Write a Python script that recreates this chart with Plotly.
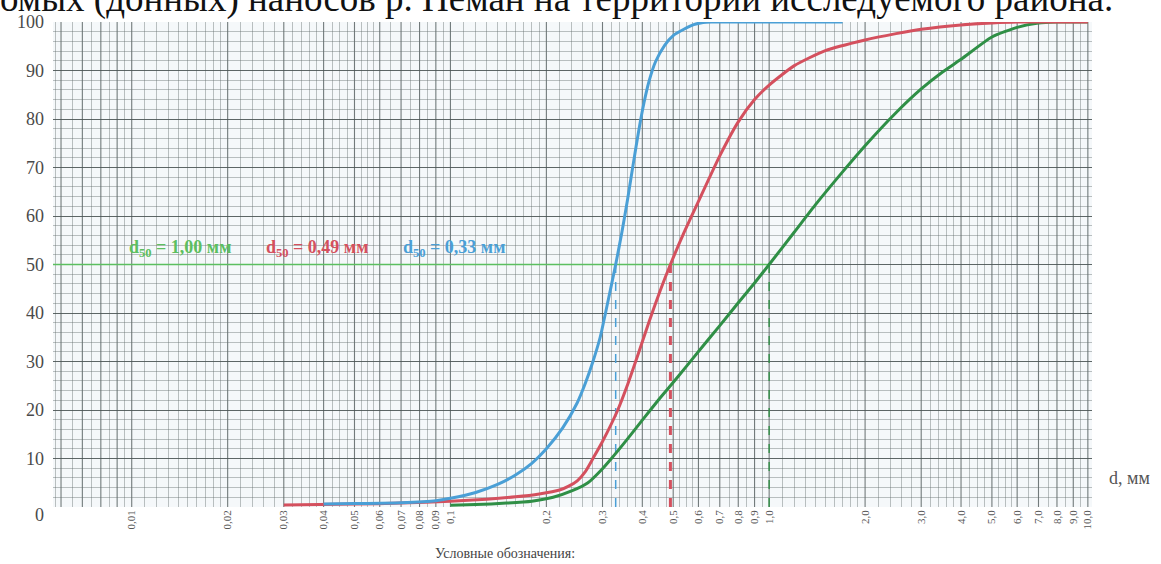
import plotly.graph_objects as go

# ---------------- data ----------------
tick_vals = [0.01, 0.02, 0.03, 0.04, 0.05, 0.06, 0.07, 0.08, 0.09, 0.1,
             0.2, 0.3, 0.4, 0.5, 0.6, 0.7, 0.8, 0.9, 1.0,
             2.0, 3.0, 4.0, 5.0, 6.0, 7.0, 8.0, 9.0, 10.0]
tick_text = ["0,01", "0,02", "0,03", "0,04", "0,05", "0,06", "0,07", "0,08", "0,09", "0,1",
             "0,2", "0,3", "0,4", "0,5", "0,6", "0,7", "0,8", "0,9", "1,0",
             "2,0", "3,0", "4,0", "5,0", "6,0", "7,0", "8,0", "9,0", "10,0"]
y_ticks = [10, 20, 30, 40, 50, 60, 70, 80, 90, 100]

green_x = [0.1, 0.12, 0.15, 0.18, 0.21, 0.24, 0.27, 0.3, 0.32, 0.36, 0.4, 0.45, 0.49, 0.55,
           0.62, 0.7, 0.8, 0.9, 1.0, 1.2, 1.4, 1.7, 2.0, 2.5, 3.0, 3.5, 4.0, 5.0, 6.0, 7.0, 8.0, 10.0]
green_y = [0.35, 0.5, 0.8, 1.2, 2.0, 3.3, 5.0, 7.9, 10, 14.1, 17.9, 22.1, 25, 29,
           33.2, 37.4, 42.1, 46.2, 50, 56.7, 62.4, 69.1, 74.5, 81.3, 86.2, 89.7, 92.3, 96.9, 98.9, 99.8, 100, 100]

red_x = [0.03, 0.05, 0.07, 0.1, 0.13, 0.16, 0.19, 0.22, 0.235, 0.25, 0.265, 0.28, 0.3, 0.335,
         0.36, 0.39, 0.42, 0.455, 0.49, 0.54, 0.6, 0.7, 0.8, 0.9, 1.0, 1.2, 1.5, 2.0, 2.5, 3.0,
         4.0, 5.0, 6.0, 7.0, 10.0]
red_y = [0.4, 0.6, 0.8, 1.2, 1.6, 2.1, 2.7, 3.5, 4.3, 5.4, 7.3, 10, 13.5, 20,
         25.3, 31.9, 38.2, 44.6, 50, 56.5, 63, 72.4, 79.4, 84, 87, 91, 94.1, 96.3, 97.6, 98.5,
         99.4, 99.8, 100, 100, 100]

blue_x = [0.04, 0.05, 0.07, 0.09, 0.1, 0.12, 0.14, 0.16, 0.18, 0.2, 0.225, 0.25, 0.265, 0.28,
          0.295, 0.31, 0.33, 0.345, 0.36, 0.375, 0.39, 0.405, 0.42, 0.44, 0.47, 0.5, 0.54, 0.58,
          0.62, 0.66, 1.0, 1.3, 1.7]
blue_y = [0.6, 0.7, 0.9, 1.3, 1.8, 3.0, 4.6, 6.6, 9.0, 12.0, 16.3, 21.5, 25.5, 30,
          35, 41.5, 50, 56.6, 63.6, 70.9, 77.7, 83.4, 87.8, 91.8, 95.2, 97.2, 98.5, 99.45,
          99.9, 100, 100, 100, 100]

d50_values = [1.00, 0.49, 0.33]
d50_labels = ["d<sub>50</sub> = 1,00 мм", "d<sub>50</sub> = 0,49 мм", "d<sub>50</sub> = 0,33 мм"]
level_50 = 50

# ---------------- style ----------------
GREEN = "#2f8f46"
RED = "#d4505e"
BLUE = "#4a9fd6"
GREEN_LIGHT = "#5cbf60"
SERIF = "Liberation Serif"

x_log_min, x_log_max = -2.247, 1.013

major_grid = [0.006, 0.007, 0.008, 0.009] + tick_vals
mults = [1.1, 1.2, 1.3, 1.4, 1.5, 1.6, 1.7, 1.8, 1.9, 2.2, 2.4, 2.6, 2.8, 3.2, 3.4, 3.6, 3.8,
         4.25, 4.5, 4.75, 5.25, 5.5, 5.75, 6.5, 7.5, 8.5, 9.5]
minor_grid = [b * m for b in [0.001, 0.01, 0.1, 1.0] for m in mults]
minor_grid = [v for v in minor_grid if 10 ** x_log_min < v < 10 ** x_log_max]

fig = go.Figure()

fig.add_trace(go.Scatter(x=[10 ** x_log_min, d50_values[0]], y=[level_50, level_50], mode="lines",
                         line=dict(color=GREEN_LIGHT, width=1.6), hoverinfo="skip", showlegend=False))

for val, col, w in zip(d50_values, [GREEN, RED, BLUE], [1.4, 3.0, 1.5]):
    fig.add_trace(go.Scatter(x=[val, val], y=[0, level_50], mode="lines",
                             line=dict(color=col, width=w, dash="dash"), hoverinfo="skip", showlegend=False))

for xs, ys, col in [(green_x, green_y, GREEN), (red_x, red_y, RED), (blue_x, blue_y, BLUE)]:
    fig.add_trace(go.Scatter(x=xs, y=ys, mode="lines",
                             line=dict(color=col, width=3, shape="spline", smoothing=0.6),
                             showlegend=False))

fig.update_layout(
    width=1161, height=564,
    margin=dict(l=53, r=69, t=22, b=57),
    paper_bgcolor="white", plot_bgcolor="#f5f8fa",
    showlegend=False,
    xaxis=dict(type="log", range=[x_log_min, x_log_max],
               tickmode="array", tickvals=tick_vals, ticktext=tick_text,
               tickangle=-90, tickfont=dict(family=SERIF, size=11, color="#555"),
               showgrid=False, zeroline=False, showline=False, ticks="", automargin=False,
               minor=dict(tickmode="array", tickvals=minor_grid, showgrid=True,
                          gridcolor="rgba(100,110,110,0.42)", gridwidth=1, ticks="")),
    yaxis=dict(range=[0, 100], tickmode="array", tickvals=y_ticks,
               tickfont=dict(family=SERIF, size=18, color="#4a4a4a"),
               showgrid=True, gridcolor="rgba(70,80,80,0.8)", gridwidth=1.2,
               zeroline=False, showline=False, ticks="", ticklabelstandoff=8, automargin=False,
               minor=dict(dtick=2, showgrid=True, gridcolor="rgba(100,110,110,0.42)", gridwidth=1)),
)

for v in major_grid:
    if 10 ** x_log_min < v < 10 ** x_log_max:
        fig.add_shape(type="line", xref="x", yref="paper", x0=v, x1=v, y0=0, y1=1,
                      line=dict(color="rgba(70,80,80,0.75)", width=1.1), layer="below")

ann_x = [0.122, 0.254, 0.386]
for lbl, col, ax in zip(d50_labels, [GREEN_LIGHT, RED, BLUE], ann_x):
    fig.add_annotation(x=ax, y=0.532, xref="paper", yref="paper", text=lbl, showarrow=False,
                       font=dict(family=SERIF, size=18, color=col, weight="bold"),
                       xanchor="center", yanchor="middle")

fig.add_annotation(x=-0.0067, y=-0.0165, xref="paper", yref="paper", text="0", showarrow=False,
                   font=dict(family=SERIF, size=18, color="#4a4a4a"), xanchor="right", yanchor="middle")
fig.add_annotation(x=(1107 - 53) / 1039, y=0.06, xref="paper", yref="paper", text="d, мм", showarrow=False,
                   font=dict(family=SERIF, size=18, color="#555"), xanchor="left", yanchor="middle")
fig.add_annotation(x=(505 - 53) / 1039, y=-(553 - 507) / 485, xref="paper", yref="paper",
                   text="Условные обозначения:", showarrow=False,
                   font=dict(family=SERIF, size=14, color="#444"), xanchor="center", yanchor="middle")
fig.add_annotation(x=(-2 - 53) / 1039, y=1 + (22 + 1) / 485, xref="paper", yref="paper",
                   text="омых (донных) наносов р. Неман на территории исследуемого района.",
                   showarrow=False, font=dict(family=SERIF, size=37, color="#111"),
                   xanchor="left", yanchor="middle")

fig.write_html("out.html", config={"displayModeBar": False},
               post_script="document.body.style.margin='0';")
